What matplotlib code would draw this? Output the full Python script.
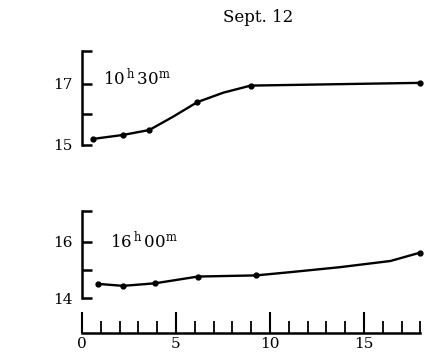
import matplotlib
matplotlib.use("Agg")
import matplotlib.pyplot as plt

plt.rcParams['font.family'] = ['DejaVu Serif']
plt.rcParams['mathtext.fontset'] = 'dejavuserif'

# 10h30m curve: marked points and extra points
x_1030 = [0.6, 2.2, 3.58, 6.13, 8.97, 18.0]
y_1030 = [15.2, 15.33, 15.49, 16.4, 16.94, 17.03]
x_1030_line = [0.6, 2.2, 3.58, 4.86, 6.13, 7.52, 8.97, 18.0]
y_1030_line = [15.2, 15.33, 15.49, 15.93, 16.4, 16.71, 16.94, 17.03]

# 16h00m curve
x_1600 = [0.85, 2.18, 3.88, 6.17, 9.26, 18.0]
y_1600 = [14.5, 14.43, 14.52, 14.76, 14.8, 15.61]
x_1600_line = [0.85, 2.18, 3.88, 6.17, 9.26, 11.0, 13.7, 16.4, 18.0]
y_1600_line = [14.5, 14.43, 14.52, 14.76, 14.8, 14.91, 15.09, 15.31, 15.61]

x_ticks_major = [0, 5, 10, 15]
x_ticks_minor = list(range(0, 19))

fig = plt.figure(figsize=(4.26, 3.62), dpi=100)

left = 82 / 426
width = 338.5 / 426


def bracket_axis(ax, ylo, yhi, ticks, labels):
    ax.set_xlim(0, 18)
    ax.set_ylim(ylo, yhi)
    for s in ['top', 'right', 'bottom']:
        ax.spines[s].set_visible(False)
    ax.spines['left'].set_linewidth(1.8)
    ax.set_xticks([])
    ax.set_yticks(ticks)
    ax.set_yticklabels(labels, fontsize=11)
    ax.tick_params(axis='y', direction='in', length=7, width=1.8, pad=7)
    ax.patch.set_visible(False)


# upper panel
ax1 = fig.add_axes([left, 1 - 145 / 362, width, 94 / 362])
bracket_axis(ax1, 15, 18.07, [15, 16, 17, 18.07], ['15', '', '17', ''])
ax1.plot(x_1030_line, y_1030_line, color='black', lw=1.7, clip_on=False)
ax1.plot(x_1030, y_1030, 'o', color='black', ms=3.5, clip_on=False)
ax1.text(1.1, 16.97, r'$\mathrm{10^{\,h}\,30^{m}}$', fontsize=12)

# lower panel
ax2 = fig.add_axes([left, 1 - 298 / 362, width, 87 / 362])
bracket_axis(ax2, 14, 17.08, [14, 15, 16, 17.08], ['14', '', '16', ''])
ax2.plot(x_1600_line, y_1600_line, color='black', lw=1.7, clip_on=False)
ax2.plot(x_1600, y_1600, 'o', color='black', ms=3.5, clip_on=False)
ax2.text(1.5, 15.75, r'$\mathrm{16^{\,h}\,00^{m}}$', fontsize=12)

# shared x scale
ax3 = fig.add_axes([left, 1 - 333 / 362, width, 0.0001])
ax3.set_xlim(0, 18)
for s in ['top', 'right', 'left']:
    ax3.spines[s].set_visible(False)
ax3.spines['bottom'].set_linewidth(1.8)
ax3.set_yticks([])
ax3.set_xticks(x_ticks_major)
ax3.set_xticklabels([str(t) for t in x_ticks_major], fontsize=11)
ax3.set_xticks(x_ticks_minor, minor=True)
ax3.tick_params(axis='x', which='major', direction='in', length=15, width=1.5, pad=3)
ax3.tick_params(axis='x', which='minor', direction='in', length=9, width=1.3)

fig.text(258 / 426, 1 - 17 / 362, 'Sept. 12', ha='center', va='center', fontsize=12)

fig.savefig('out.png', dpi=100)
